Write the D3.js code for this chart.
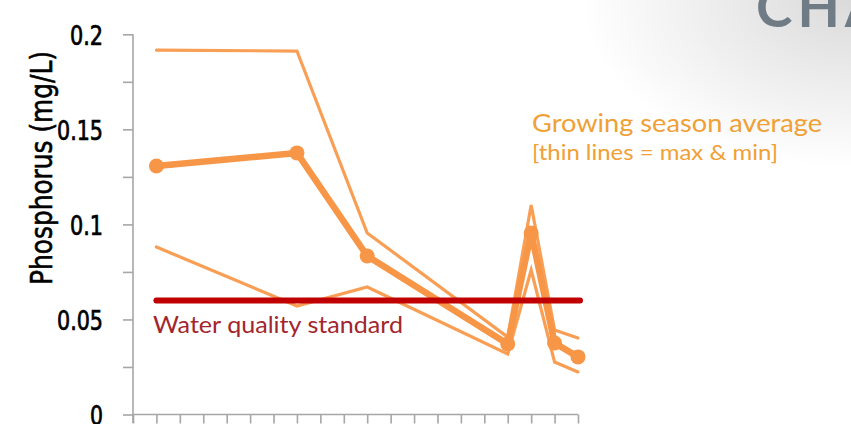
<!DOCTYPE html>
<html>
<head>
<meta charset="utf-8">
<script src="https://cdn.jsdelivr.net/npm/d3@7"></script>
<style>
  html, body { margin: 0; padding: 0; background: #fff; }
  svg { display: block; }
</style>
</head>
<body>
<svg id="chart" width="851" height="424"></svg>
<script>
// Sampling positions along the season (axis runs 0..19)
const positions = [1, 7, 10, 16, 17, 18, 19];
// Total phosphorus, mg/L
const seasonAverage = [0.1307, 0.1376, 0.0834, 0.0371, 0.0955, 0.0376, 0.0303];
const seasonMax     = [0.1917, 0.1912, 0.0955, 0.0407, 0.1102, 0.0444, 0.0402];
const seasonMin     = [0.0881, 0.0571, 0.0671, 0.0318, 0.0760, 0.0276, 0.0224];
const standardValue = 0.06;
const yTickValues = [0, 0.025, 0.05, 0.075, 0.1, 0.125, 0.15, 0.175, 0.2];
const yTickLabels = ["0", "", "0.05", "", "0.1", "", "0.15", "", "0.2"];
const xTickValues = d3.range(0, 20);

const svg = d3.select("#chart");
const narrowFont = "'Liberation Sans Narrow', 'DejaVu Sans Condensed', sans-serif";
const roundFont = "Lato, 'Open Sans', sans-serif";

// Soft grey slide background in the upper right corner
const defs = svg.append("defs");
const grad = defs.append("radialGradient")
  .attr("id", "slideShade")
  .attr("gradientUnits", "userSpaceOnUse")
  .attr("cx", 851).attr("cy", 0).attr("r", 270)
  .attr("gradientTransform", "translate(851,0) scale(1,0.62) translate(-851,0)");
grad.append("stop").attr("offset", "0%").attr("stop-color", "#dadada");
grad.append("stop").attr("offset", "45%").attr("stop-color", "#ebebeb");
grad.append("stop").attr("offset", "100%").attr("stop-color", "#ffffff");
svg.append("rect").attr("width", 851).attr("height", 424).attr("fill", "#fff");
svg.append("rect").attr("width", 851).attr("height", 424).attr("fill", "url(#slideShade)");

// Slide heading, running off the right edge
svg.append("text")
  .attr("x", 756).attr("y", 27)
  .attr("font-family", roundFont)
  .attr("font-size", 55)
  .attr("font-weight", 700)
  .attr("letter-spacing", 5)
  .attr("fill", "#6f7c86")
  .text("CHANGE");

const x = d3.scaleLinear().domain([0, 19]).range([133, 578]);
const y = d3.scaleLinear().domain([0, 0.2]).range([414.5, 34.3]);

const axisColor = "#a6a6a6";

// Y axis
const yAxis = svg.append("g")
  .attr("transform", `translate(${x(0)},0)`)
  .call(d3.axisLeft(y)
    .tickValues(yTickValues)
    .tickSize(10)
    .tickPadding(20)
    .tickFormat((d, i) => yTickLabels[i]));
yAxis.select(".domain").attr("stroke", axisColor).attr("stroke-width", 1.6)
  .attr("d", `M0,${y(0.2)}V423`);
yAxis.selectAll(".tick line").attr("stroke", axisColor).attr("stroke-width", 1.6);
yAxis.selectAll(".tick text")
  .attr("font-family", narrowFont)
  .attr("font-size", 27)
  .attr("fill", "#000")
  .attr("stroke", "#000")
  .attr("stroke-width", 0.7)
  .attr("dy", "0.36em")
  .each(function () {
    const s = d3.select(this).text();
    if (s) {
      const w = Array.from(s).reduce((a, c) => a + (c === "." ? 7 : 13), 0);
      d3.select(this).attr("textLength", w).attr("lengthAdjust", "spacingAndGlyphs");
    }
  });

// X axis (ticks only)
const xAxis = svg.append("g")
  .attr("transform", `translate(0,${y(0)})`)
  .call(d3.axisBottom(x).tickValues(xTickValues).tickSize(9).tickFormat(""));
xAxis.select(".domain").attr("stroke", axisColor).attr("stroke-width", 1.6)
  .attr("d", `M${x(0)},0H${x(19)}`);
xAxis.selectAll(".tick line").attr("stroke", axisColor).attr("stroke-width", 1.6);

// Axis title
svg.append("text")
  .attr("transform", "translate(52,285) rotate(-90)")
  .attr("font-family", narrowFont)
  .attr("font-size", 31)
  .attr("fill", "#000")
  .attr("stroke", "#000")
  .attr("stroke-width", 0.6)
  .attr("textLength", 234)
  .attr("lengthAdjust", "spacingAndGlyphs")
  .text("Phosphorus (mg/L)");

const orange = "#f79646";
const line = d3.line().x((d, i) => x(positions[i])).y(d => y(d));

// Max and min envelopes
[seasonMax, seasonMin].forEach(series => {
  svg.append("path")
    .datum(series)
    .attr("d", line)
    .attr("fill", "none")
    .attr("stroke", "#f99f55")
    .attr("stroke-width", 3.2)
    .attr("stroke-linejoin", "miter")
    .attr("stroke-linecap", "round");
});

// Growing season average
svg.append("path")
  .datum(seasonAverage)
  .attr("d", line)
  .attr("fill", "none")
  .attr("stroke", orange)
  .attr("stroke-width", 6.5)
  .attr("stroke-linejoin", "round");
svg.selectAll(".avg-dot")
  .data(seasonAverage)
  .join("circle")
  .attr("class", "avg-dot")
  .attr("cx", (d, i) => x(positions[i]))
  .attr("cy", d => y(d))
  .attr("r", 7.5)
  .attr("fill", orange);

// Water quality standard
svg.append("line")
  .attr("x1", x(1)).attr("x2", x(19) + 2)
  .attr("y1", y(standardValue)).attr("y2", y(standardValue))
  .attr("stroke", "#c00000")
  .attr("stroke-width", 6)
  .attr("stroke-linecap", "round");

svg.append("text")
  .attr("x", 153).attr("y", 333)
  .attr("font-family", roundFont)
  .attr("font-size", 23.5)
  .attr("fill", "#a3262c")
  .attr("textLength", 250)
  .attr("lengthAdjust", "spacingAndGlyphs")
  .text("Water quality standard");

// Legend note
svg.append("text")
  .attr("x", 532).attr("y", 132)
  .attr("font-family", roundFont)
  .attr("font-size", 25)
  .attr("fill", "#f0a034")
  .attr("textLength", 290)
  .attr("lengthAdjust", "spacingAndGlyphs")
  .text("Growing season average");
svg.append("text")
  .attr("x", 532).attr("y", 160)
  .attr("font-family", roundFont)
  .attr("font-size", 22)
  .attr("fill", "#f0a034")
  .attr("textLength", 246)
  .attr("lengthAdjust", "spacingAndGlyphs")
  .text("[thin lines = max & min]");
</script>
</body>
</html>
